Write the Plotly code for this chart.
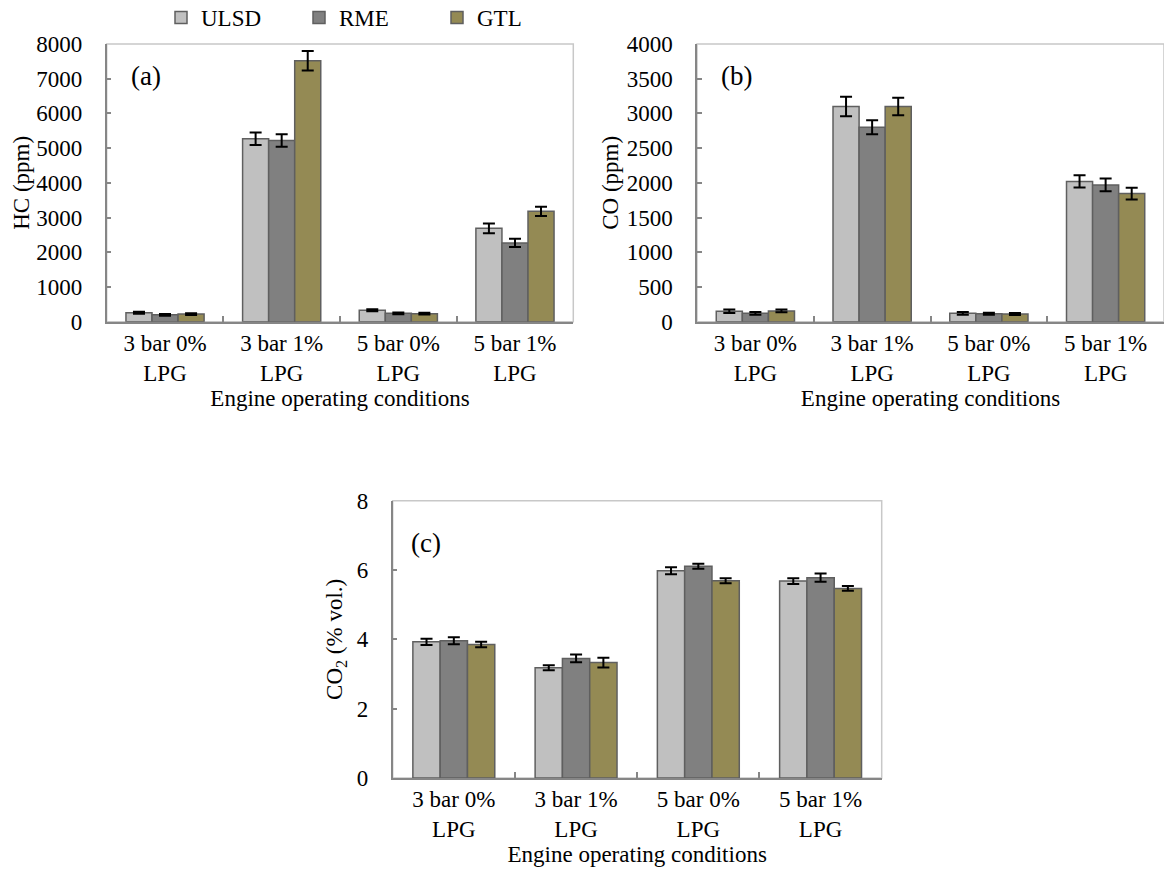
import plotly.graph_objects as go

# Engine operating conditions (x categories)
conditions = ["3 bar 0%<br>LPG", "3 bar 1%<br>LPG", "5 bar 0%<br>LPG", "5 bar 1%<br>LPG"]
fuels = ["ULSD", "RME", "GTL"]
fuel_colors = {"ULSD": "#C0C0C0", "RME": "#808080", "GTL": "#948A54"}

# (a) HC emissions, ppm
hc_ulsd = [260, 5270, 330, 2690]
hc_ulsd_err = [30, 180, 30, 140]
hc_rme = [200, 5220, 240, 2270]
hc_rme_err = [25, 180, 25, 120]
hc_gtl = [220, 7520, 230, 3180]
hc_gtl_err = [25, 280, 25, 135]

# (b) CO emissions, ppm
co_ulsd = [150, 3100, 120, 2020]
co_ulsd_err = [25, 140, 20, 88]
co_rme = [120, 2800, 115, 1970]
co_rme_err = [20, 100, 15, 92]
co_gtl = [155, 3100, 110, 1845]
co_gtl_err = [20, 125, 15, 84]

# (c) CO2 emissions, % vol.
co2_ulsd = [3.93, 3.18, 5.98, 5.68]
co2_ulsd_err = [0.09, 0.07, 0.10, 0.08]
co2_rme = [3.96, 3.45, 6.11, 5.78]
co2_rme_err = [0.10, 0.11, 0.07, 0.12]
co2_gtl = [3.85, 3.33, 5.69, 5.47]
co2_gtl_err = [0.08, 0.14, 0.07, 0.07]

panels = [
    ("x", "y", {"ULSD": (hc_ulsd, hc_ulsd_err), "RME": (hc_rme, hc_rme_err), "GTL": (hc_gtl, hc_gtl_err)}),
    ("x2", "y2", {"ULSD": (co_ulsd, co_ulsd_err), "RME": (co_rme, co_rme_err), "GTL": (co_gtl, co_gtl_err)}),
    ("x3", "y3", {"ULSD": (co2_ulsd, co2_ulsd_err), "RME": (co2_rme, co2_rme_err), "GTL": (co2_gtl, co2_gtl_err)}),
]

FONT = "Liberation Serif"
AXIS_GREY = "#868686"
BORDER_GREY = "#C8C8C8"
OUTLINE = "#5F5F5F"

fig = go.Figure()
for i, (xa, ya, series) in enumerate(panels):
    for fuel in fuels:
        vals, errs = series[fuel]
        fig.add_trace(go.Bar(
            x=conditions, y=vals, name=fuel, xaxis=xa, yaxis=ya,
            marker=dict(color=fuel_colors[fuel], line=dict(color=OUTLINE, width=1.5)),
            error_y=dict(type="data", array=errs, visible=True, color="black", thickness=2, width=6),
            legendgroup=fuel, showlegend=(i == 0),
        ))

tick_font = dict(family=FONT, size=23, color="black")


def xaxis_cfg(domain, anchor):
    return dict(
        domain=domain, anchor=anchor, type="category", automargin=False,
        showline=True, linecolor=AXIS_GREY, linewidth=1.5,
        ticks="inside", tickson="boundaries", ticklen=6, tickcolor=AXIS_GREY, tickwidth=1.5,
        showgrid=False, zeroline=False, tickfont=tick_font,
        title=dict(text="Engine operating conditions", font=tick_font, standoff=0),
    )


def yaxis_cfg(domain, anchor, rng, dtick, title, standoff):
    return dict(
        domain=domain, anchor=anchor, range=rng, dtick=dtick, automargin=False,
        showline=True, linecolor=AXIS_GREY, linewidth=1.5,
        ticks="inside", ticklen=5, tickcolor=AXIS_GREY, tickwidth=1.5,
        ticklabelstandoff=18,
        showgrid=False, zeroline=False, tickfont=tick_font,
        title=dict(text=title, font=tick_font, standoff=standoff),
    )


W, H = 1164, 879
dom_a_x = [106.7 / W, 573.3 / W]
dom_b_x = [697.0 / W, 1.0]
dom_top_y = [1 - 321.7 / H, 1 - 44.0 / H]
dom_c_x = [392.7 / W, 881.7 / W]
dom_c_y = [1 - 778.0 / H, 1 - 500.7 / H]

fig.update_layout(
    width=W, height=H,
    margin=dict(l=0, r=0, t=0, b=0, autoexpand=False),
    paper_bgcolor="white", plot_bgcolor="white",
    font=dict(family=FONT, size=23, color="black"),
    barmode="group", bargap=0.33, bargroupgap=0,
    xaxis=xaxis_cfg(dom_a_x, "y"),
    yaxis=yaxis_cfg(dom_top_y, "x", [0, 8000], 1000, "HC (ppm)", 0),
    xaxis2=xaxis_cfg(dom_b_x, "y2"),
    yaxis2=yaxis_cfg(dom_top_y, "x2", [0, 4000], 500, "CO (ppm)", 2),
    xaxis3=xaxis_cfg(dom_c_x, "y3"),
    yaxis3=yaxis_cfg(dom_c_y, "x3", [0, 8], 2, "CO<sub>2</sub> (% vol.)", 8),
    legend=dict(
        orientation="h", x=161 / W, y=1 + 4 / H, xanchor="left", yanchor="top",
        font=dict(family=FONT, size=23, color="black"),
        entrywidth=93, entrywidthmode="pixels",
        bgcolor="rgba(0,0,0,0)", traceorder="normal",
    ),
)

# plot-area frames
for xa, ya in [("x", "y"), ("x2", "y2"), ("x3", "y3")]:
    fig.add_shape(type="rect", xref=f"{xa} domain", yref=f"{ya} domain",
                  x0=0, x1=1, y0=0, y1=1, line=dict(color=BORDER_GREY, width=1.5), layer="below")

# panel letters
for xa, ya, label, px, py in [("x", "y", "(a)", 0.048, 0.885), ("x2", "y2", "(b)", 0.047, 0.885),
                              ("x3", "y3", "(c)", 0.034, 0.847)]:
    fig.add_annotation(text=label, xref=f"{xa} domain", yref=f"{ya} domain", x=px, y=py,
                       xanchor="left", yanchor="middle", showarrow=False,
                       font=dict(family=FONT, size=27, color="black"))

fig.write_html("out.html")
